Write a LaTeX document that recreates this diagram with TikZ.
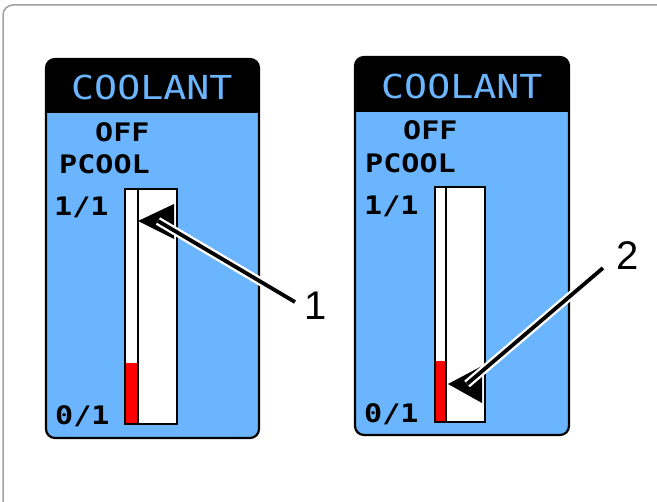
\documentclass[tikz,border=0pt]{standalone}
\usepackage{fontspec}
\newfontfamily\gaugefont{DejaVu Sans Mono}
\newfontfamily\lblfont{Liberation Sans}
\definecolor{panelblue}{HTML}{6BB5FF}
\definecolor{framegray}{HTML}{A0A0A0}
\tikzset{
  frameline/.style={draw=framegray,line width=1.5pt,rounded corners=10pt},
  panelborder/.style={draw=black,line width=2.2pt,rounded corners=9pt},
  titletext/.style={anchor=base west,inner sep=0pt,text=panelblue,font=\gaugefont\fontsize{33}{33}\selectfont},
  gaugetext/.style={anchor=base west,inner sep=0pt,text=black,font=\gaugefont\bfseries\fontsize{25.5}{25.5}\selectfont},
  barbox/.style={draw=black,line width=1.4pt},
  callout/.style={anchor=base,inner sep=0pt,font=\lblfont\fontsize{40}{40}\selectfont},
  halo/.style={draw=white,line width=8.5pt},
  core/.style={draw=black,line width=3.8pt},
  headfill/.style={fill=black}
}
\begin{document}
\begin{tikzpicture}[x=1pt,y=-1pt]
\useasboundingbox (0,0) rectangle (657,502);
% outer frame (right and bottom edges fall outside)
\draw[frameline] (3,5) rectangle (672,512);

% ---------- panel 1 ----------
\begin{scope}
\clip[rounded corners=9pt] (46,59) rectangle (259,438);
\fill[black] (46,59) rectangle (259,113);
\fill[panelblue] (46,113) rectangle (259,438);
\end{scope}
\draw[panelborder] (46,59) rectangle (259,438);
\node[titletext] (t1) at (71,100) {\scalebox{1.16}[1]{COOLANT}};
\node[gaugetext] (off1) at (95,142) {\scalebox{1.18}[1]{OFF}};
\node[gaugetext] (pc1) at (59,174) {\scalebox{1.18}[1]{PCOOL}};
\node[gaugetext] (top1) at (54,216) {\scalebox{1.18}[1]{1/1}};
\node[gaugetext] (bot1) at (55,425) {\scalebox{1.18}[1]{0/1}};
\fill[white] (125,189) rectangle (177,424);
\fill[red] (125,363) rectangle (138,424);
\draw[barbox] (125,189) rectangle (177,424);
\draw[barbox] (138,189) -- (138,424);

% ---------- panel 2 ----------
\begin{scope}
\clip[rounded corners=9pt] (355,57) rectangle (569,435);
\fill[black] (355,57) rectangle (569,112);
\fill[panelblue] (355,112) rectangle (569,435);
\end{scope}
\draw[panelborder] (355,57) rectangle (569,435);
\node[titletext] (t2) at (381,99) {\scalebox{1.16}[1]{COOLANT}};
\node[gaugetext] (off2) at (403,140) {\scalebox{1.18}[1]{OFF}};
\node[gaugetext] (pc2) at (365,173) {\scalebox{1.18}[1]{PCOOL}};
\node[gaugetext] (top2) at (364,215) {\scalebox{1.18}[1]{1/1}};
\node[gaugetext] (bot2) at (364,423) {\scalebox{1.18}[1]{0/1}};
\fill[white] (435,187) rectangle (485,422);
\fill[red] (435,361) rectangle (446,422);
\draw[barbox] (435,187) rectangle (485,422);
\draw[barbox] (446,187) -- (446,422);

% ---------- callout 1 ----------
\coordinate (tip1) at (138,221);
\coordinate (bu1) at (174,204);
\coordinate (bl1) at (174,239);
\coordinate (in1) at (158,221);
\coordinate (end1) at (295,302);
\node[callout] (lab1) at (316,320) {1};
\fill[headfill] (tip1) -- (bu1) -- (bl1) -- cycle;
\draw[halo] (end1) -- (in1);
\draw[core] (end1) -- (in1);

% ---------- callout 2 ----------
\coordinate (tip2) at (448,384);
\coordinate (bu2) at (482,366);
\coordinate (bl2) at (482,403);
\coordinate (in2) at (467,384);
\coordinate (end2) at (603,268);
\node[callout] (lab2) at (628,270) {2};
\fill[headfill] (tip2) -- (bu2) -- (bl2) -- cycle;
\draw[halo] (end2) -- (in2);
\draw[core] (end2) -- (in2);
\end{tikzpicture}
\end{document}
